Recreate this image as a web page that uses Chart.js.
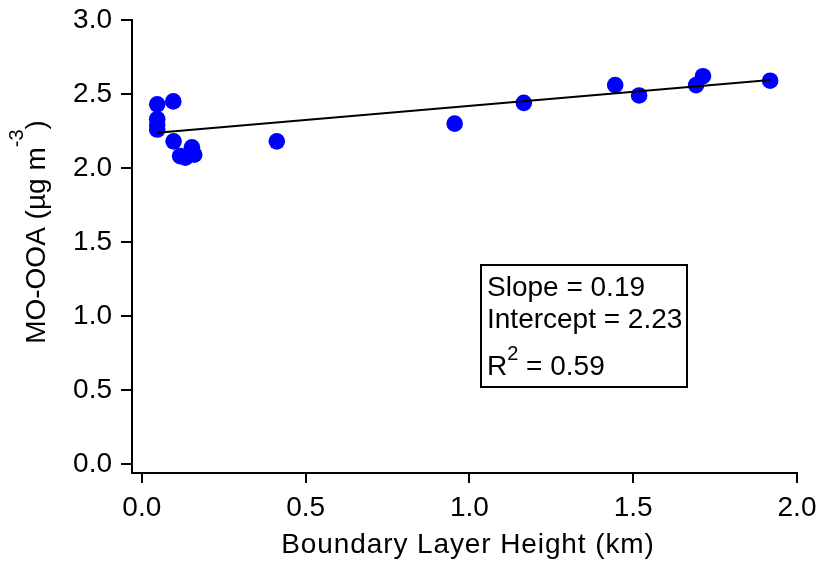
<!DOCTYPE html>
<html>
<head>
<meta charset="utf-8">
<script src="https://cdn.jsdelivr.net/npm/chart.js@4"></script>
<style>
  html, body { margin: 0; padding: 0; background: #fff; }
  canvas { display: block; }
</style>
</head>
<body>
<canvas id="chart" width="819" height="569"></canvas>
<script>
const FONT = '"Liberation Sans", Arial, sans-serif';

// boundary layer height (km) and MO-OOA (ug m-3)
const heightKm = [0.047, 0.047, 0.047, 0.047, 0.096, 0.097, 0.117, 0.133, 0.153, 0.160,
  0.412, 0.955, 1.166, 1.445, 1.518, 1.692, 1.713, 1.918];
const mooa = [2.43, 2.33, 2.29, 2.26, 2.45, 2.18, 2.08, 2.07, 2.14, 2.09,
  2.18, 2.30, 2.44, 2.56, 2.49, 2.56, 2.62, 2.59];

const SLOPE = 0.19;
const INTERCEPT = 2.23;
const R2 = 0.59;

const xTicks = [0, 0.5, 1.0, 1.5, 2.0];
const yTicks = [0, 0.5, 1.0, 1.5, 2.0, 2.5, 3.0];

const points = heightKm.map((x, i) => ({ x, y: mooa[i] }));
const xLo = Math.min(...heightKm);
const xHi = Math.max(...heightKm);
const fitLine = [xLo, xHi].map(x => ({ x, y: INTERCEPT + SLOPE * x }));

// draws text with a raised superscript part, left to right from (x, y)
const drawParts = (ctx, parts, x, y) => {
  let cx = x;
  parts.forEach(p => {
    ctx.font = `${p.size}px ${FONT}`;
    ctx.fillText(p.text, cx, y - (p.rise || 0));
    cx += ctx.measureText(p.text).width;
  });
  return cx;
};

const partsWidth = (ctx, parts) => parts.reduce((w, p) => {
  ctx.font = `${p.size}px ${FONT}`;
  return w + ctx.measureText(p.text).width;
}, 0);

const labelsPlugin = {
  id: 'labels',
  afterDraw(chart) {
    const { ctx } = chart;
    ctx.save();
    ctx.fillStyle = '#000';
    ctx.textBaseline = 'alphabetic';
    ctx.textAlign = 'left';

    // x title
    ctx.font = `28px ${FONT}`;
    ctx.letterSpacing = '0.9px';
    const xt = 'Boundary Layer Height (km)';
    const xw = ctx.measureText(xt).width;
    ctx.fillText(xt, 468 - xw / 2, 553);
    ctx.letterSpacing = '0px';

    // y title, rotated
    const yParts = [
      { text: 'MO-OOA (\u00b5g m', size: 28 },
      { text: '-3', size: 20, rise: 22 },
      { text: ')', size: 28 },
    ];
    const yw = partsWidth(ctx, yParts);
    ctx.translate(45, 232);
    ctx.rotate(-Math.PI / 2);
    drawParts(ctx, yParts, -yw / 2, 0);
    ctx.setTransform(1, 0, 0, 1, 0, 0);

    // stats box
    ctx.strokeStyle = '#000';
    ctx.lineWidth = 2;
    ctx.strokeRect(481, 265, 206, 122);
    ctx.font = `28px ${FONT}`;
    ctx.fillText(`Slope = ${SLOPE.toFixed(2)}`, 487, 296);
    ctx.fillText(`Intercept = ${INTERCEPT.toFixed(2)}`, 487, 328);
    drawParts(ctx, [
      { text: 'R', size: 28 },
      { text: '2', size: 20, rise: 15 },
      { text: ` = ${R2.toFixed(2)}`, size: 28 },
    ], 487, 375);
    ctx.restore();
  },
};

const axisStyle = (tickLength, padding, ticks) => ({
  type: 'linear',
  border: { display: true, color: '#000', width: 2 },
  grid: { display: true, drawOnChartArea: false, drawTicks: true, tickLength, color: '#000', lineWidth: 2 },
  afterBuildTicks: scale => { scale.ticks = ticks.map(value => ({ value })); },
  ticks: {
    padding,
    color: '#000',
    font: { family: FONT, size: 28 },
    callback: v => Number(v).toFixed(1),
  },
});

new Chart(document.getElementById('chart'), {
  type: 'scatter',
  data: {
    datasets: [
      {
        data: fitLine,
        showLine: true,
        borderColor: '#000',
        borderWidth: 2,
        pointRadius: 0,
        order: 0,
      },
      {
        data: points,
        backgroundColor: '#0000ff',
        borderWidth: 0,
        pointRadius: 8.3,
        order: 1,
      },
    ],
  },
  options: {
    responsive: false,
    animation: false,
    layout: { padding: { top: 20, right: 22, left: 0, bottom: 0 } },
    plugins: { legend: { display: false }, tooltip: { enabled: false } },
    scales: {
      x: {
        ...axisStyle(10, 8, xTicks),
        min: -0.03,
        max: 2.0,
        afterFit: scale => { scale.height = 96; scale.paddingLeft = 0; scale.paddingRight = 0; },
      },
      y: {
        ...axisStyle(11, 9, yTicks),
        min: -0.061,
        max: 3.0,
        afterFit: scale => { scale.width = 132; scale.paddingTop = 0; scale.paddingBottom = 0; },
      },
    },
  },
  plugins: [labelsPlugin],
});
</script>
</body>
</html>
